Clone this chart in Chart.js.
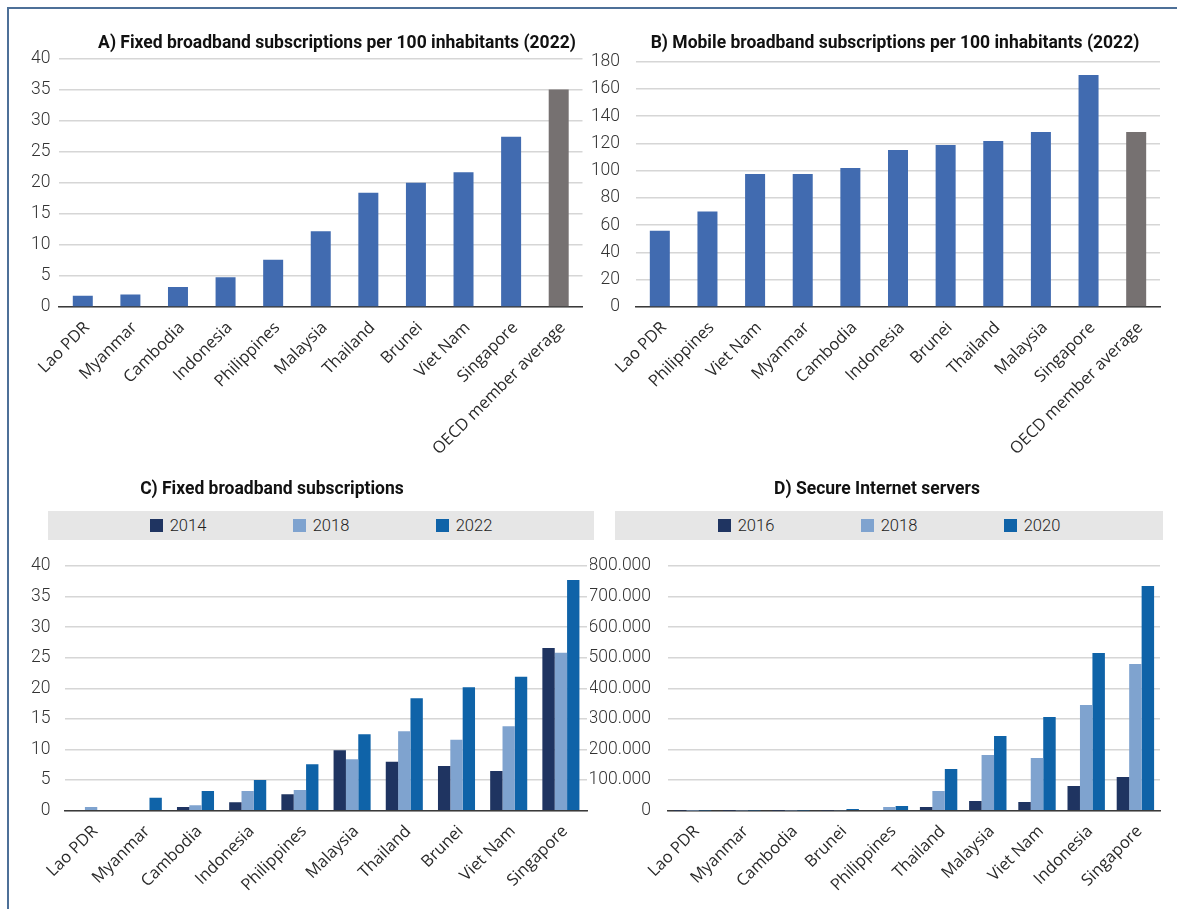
<!DOCTYPE html>
<html>
<head>
<meta charset="utf-8">
<script src="https://cdn.jsdelivr.net/npm/chart.js@4/dist/chart.umd.min.js"></script>
<style>
  body { margin: 0; background: #fff; width: 1177px; height: 909px; overflow: hidden; position: relative; font-family: Roboto, sans-serif; }
  .frame-top { position: absolute; left: 7px; top: 7px; width: 1170px; height: 2px; background: #4d7098; z-index: 5; }
  .frame-left { position: absolute; left: 7px; top: 7px; width: 2px; height: 902px; background: #4d7098; z-index: 5; }
  canvas { position: absolute; }
  .title { position: absolute; font: bold 17.5px Roboto, sans-serif; color: #111; white-space: nowrap; transform: translateX(-50%); line-height: 20px; z-index: 2; }
  .legend { position: absolute; background: #e6e6e6; height: 29px; display: flex; justify-content: center; align-items: center; }
  .item { width: 143px; display: flex; align-items: center; font: 16.5px Roboto, sans-serif; font-weight: 300; color: #222; }
  .item:last-child { width: auto; }
  .sw { width: 13px; height: 13px; margin-right: 7px; }
</style>
</head>
<body>
<div class="frame-top"></div>
<div class="frame-left"></div>

<div class="title" style="left:337px;top:32px">A) Fixed broadband subscriptions per 100 inhabitants (2022)</div>
<div class="title" style="left:895px;top:32px">B) Mobile broadband subscriptions per 100 inhabitants (2022)</div>
<div class="title" style="left:272px;top:478px">C) Fixed broadband subscriptions</div>
<div class="title" style="left:877px;top:478px">D) Secure Internet servers</div>

<div class="legend" id="legendC" style="left:48px;top:511px;width:546px"></div>
<div class="legend" id="legendD" style="left:615px;top:511px;width:548px"></div>

<canvas id="chartA" width="590" height="475" style="left:0;top:0"></canvas>
<canvas id="chartB" width="587" height="475" style="left:590px;top:0"></canvas>
<canvas id="chartC" width="600" height="459" style="left:0;top:450px"></canvas>
<canvas id="chartD" width="587" height="459" style="left:590px;top:450px"></canvas>

<script>
// ---- Panel A: fixed broadband per 100 inhabitants, 2022 ----
const countriesA = ['Lao PDR', 'Myanmar', 'Cambodia', 'Indonesia', 'Philippines', 'Malaysia', 'Thailand', 'Brunei', 'Viet Nam', 'Singapore', 'OECD member average'];
const fixedPer100 = [1.8, 2.0, 3.2, 4.8, 7.6, 12.2, 18.4, 20.0, 21.7, 27.4, 35.0];

// ---- Panel B: mobile broadband per 100 inhabitants, 2022 ----
const countriesB = ['Lao PDR', 'Philippines', 'Viet Nam', 'Myanmar', 'Cambodia', 'Indonesia', 'Brunei', 'Thailand', 'Malaysia', 'Singapore', 'OECD member average'];
const mobilePer100 = [56, 70, 97.6, 97.6, 102, 115.2, 118.9, 121.8, 128.4, 170.2, 128.4];

// ---- Panel C: fixed broadband subscriptions by year ----
const countriesC = ['Lao PDR', 'Myanmar', 'Cambodia', 'Indonesia', 'Philippines', 'Malaysia', 'Thailand', 'Brunei', 'Viet Nam', 'Singapore'];
const yearsC = ['2014', '2018', '2022'];
const fixed2014 = [null, null, 0.6, 1.4, 2.7, 9.9, 8.0, 7.3, 6.5, 26.6];
const fixed2018 = [0.6, null, 0.9, 3.2, 3.4, 8.4, 13.0, 11.6, 13.8, 25.8];
const fixed2022 = [null, 2.1, 3.2, 5.0, 7.6, 12.5, 18.4, 20.2, 21.9, 37.7];

// ---- Panel D: secure Internet servers by year ----
const countriesD = ['Lao PDR', 'Myanmar', 'Cambodia', 'Brunei', 'Philippines', 'Thailand', 'Malaysia', 'Viet Nam', 'Indonesia', 'Singapore'];
const yearsD = ['2016', '2018', '2020'];
const servers2016 = [50, 100, 150, 600, 2500, 12000, 31500, 28500, 80500, 110000];
const servers2018 = [150, 250, 400, 1500, 12000, 64500, 182000, 172000, 345500, 479500];
const servers2020 = [350, 500, 900, 5500, 15500, 136000, 244000, 306000, 515500, 734500];

// tick label sets
const ticksA = [0, 5, 10, 15, 20, 25, 30, 35, 40];
const ticksB = [0, 20, 40, 60, 80, 100, 120, 140, 160, 180];
const ticksC = [0, 5, 10, 15, 20, 25, 30, 35, 40];
const ticksD = [0, 100000, 200000, 300000, 400000, 500000, 600000, 700000, 800000];

const BLUE = '#416bb0';
const GREY = '#767171';
const YEAR_COLORS = ['#1f3461', '#7fa3cf', '#0f63a8'];

function thousandsDot(v) {
  return String(Math.round(v)).replace(/\B(?=(\d{3})+(?!\d))/g, '.');
}

function buildChart(id, cfg) {
  const yTicks = cfg.ticks;
  return new Chart(document.getElementById(id), {
    type: 'bar',
    data: { labels: cfg.labels, datasets: cfg.datasets },
    options: {
      responsive: false,
      animation: false,
      devicePixelRatio: 1,
      layout: { padding: cfg.padding },
      plugins: { legend: { display: false }, tooltip: { enabled: false } },
      datasets: { bar: cfg.barOpts },
      scales: {
        x: {
          grid: { display: false },
          border: { display: true, color: '#3a3a3a', width: 1.5 },
          ticks: {
            autoSkip: false, minRotation: 45, maxRotation: 45,
            padding: 3, labelOffset: 4,
            color: '#2a2a2a',
            font: { family: "'Open Sans', sans-serif", size: 16.5 }
          },
          afterFit(scale) { scale.height = cfg.xHeight; }
        },
        y: {
          min: yTicks[0], max: yTicks[yTicks.length - 1],
          afterBuildTicks(scale) { scale.ticks = yTicks.map(v => ({ value: v })); },
          grid: { color: '#d6d6d6', lineWidth: 1.5, drawTicks: false },
          border: { display: false },
          ticks: {
            padding: cfg.yPad,
            color: '#333',
            font: { family: 'Roboto, sans-serif', size: 17.5, weight: 300 },
            callback: cfg.fmt || (v => v)
          },
          afterFit(scale) { scale.width = cfg.yWidth; }
        }
      }
    }
  });
}

buildChart('chartA', {
  labels: countriesA,
  datasets: [{ data: fixedPer100, backgroundColor: countriesA.map(c => c === 'OECD member average' ? GREY : BLUE) }],
  barOpts: { categoryPercentage: 1, barPercentage: 0.42 },
  ticks: ticksA, padding: { top: 58.5, right: 7.5, left: 0, bottom: 0 },
  yWidth: 59, yPad: 8.5, xHeight: 168
});

buildChart('chartB', {
  labels: countriesB,
  datasets: [{ data: mobilePer100, backgroundColor: countriesB.map(c => c === 'OECD member average' ? GREY : BLUE) }],
  barOpts: { categoryPercentage: 1, barPercentage: 0.42 },
  ticks: ticksB, padding: { top: 61.7, right: 17, left: 0, bottom: 0 },
  yWidth: 46, yPad: 16, xHeight: 168
});

const seriesC = [fixed2014, fixed2018, fixed2022];
buildChart('chartC', {
  labels: countriesC,
  datasets: yearsC.map((y, i) => ({ label: y, data: seriesC[i], backgroundColor: YEAR_COLORS[i] })),
  barOpts: { categoryPercentage: 0.71, barPercentage: 1 },
  ticks: ticksC, padding: { top: 116, right: 13, left: 0, bottom: 0 },
  yWidth: 65, yPad: 14.5, xHeight: 98.3
});

const seriesD = [servers2016, servers2018, servers2020];
buildChart('chartD', {
  labels: countriesD,
  datasets: yearsD.map((y, i) => ({ label: y, data: seriesD[i], backgroundColor: YEAR_COLORS[i] })),
  barOpts: { categoryPercentage: 0.76, barPercentage: 1 },
  ticks: ticksD, padding: { top: 116, right: 17, left: 0, bottom: 0 },
  yWidth: 78, yPad: 17, xHeight: 98.3,
  fmt: v => thousandsDot(v)
});

// legends for the grouped panels
function buildLegend(id, years) {
  const box = document.getElementById(id);
  years.forEach((y, i) => {
    const item = document.createElement('div');
    item.className = 'item';
    const sw = document.createElement('span');
    sw.className = 'sw';
    sw.style.background = YEAR_COLORS[i];
    const txt = document.createElement('span');
    txt.textContent = y;
    item.appendChild(sw);
    item.appendChild(txt);
    box.appendChild(item);
  });
}
buildLegend('legendC', yearsC);
buildLegend('legendD', yearsD);
</script>
</body>
</html>
